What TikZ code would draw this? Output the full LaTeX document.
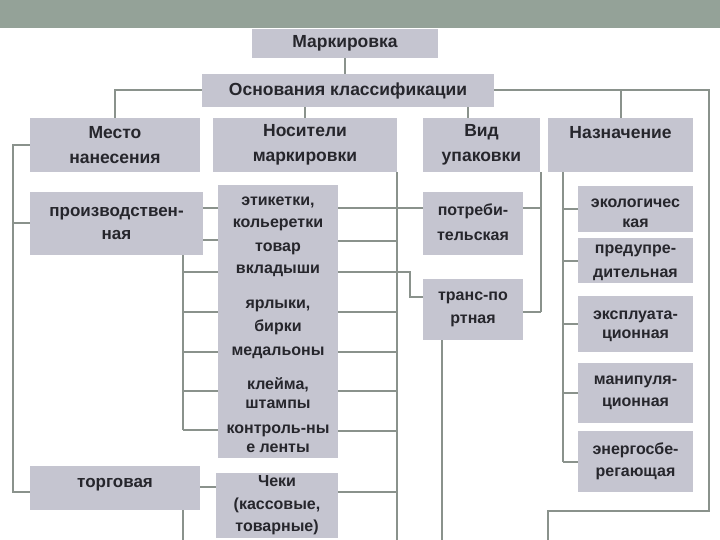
\documentclass[tikz,border=0pt]{standalone}
\usepackage{fontspec}
\setmainfont{Liberation Sans}
\usetikzlibrary{positioning, calc}
\definecolor{band}{RGB}{148, 162, 152}
\definecolor{boxfill}{RGB}{197, 197, 208}
\definecolor{wirecol}{RGB}{138, 146, 140}
\definecolor{ink}{RGB}{38, 38, 44}

\begin{document}
\begin{tikzpicture}[
    x=1pt, y=-1pt,
    cell/.style={fill=boxfill, text=ink, inner sep=0pt, align=center},
    headcell/.style={cell, font=\fontsize{17.5}{25}\selectfont\bfseries},
    itemcell/.style={cell, font=\fontsize{16}{22.5}\selectfont\bfseries},
    bigcell/.style={cell, font=\fontsize{17}{23}\selectfont\bfseries},
    link/.style={draw=wirecol, line width=2pt}
]
    \useasboundingbox (0,0) rectangle (720,540);
    \fill[band] (0,0) rectangle (720,28);

    \node[headcell, minimum width=186pt, minimum height=29pt] (mark) at (345,43.5) {Маркировка};
    \node[headcell, minimum width=292pt, minimum height=33pt] (osn) at (348,90.5) {Основания классификации};
    \node[headcell, minimum width=170pt, minimum height=54pt] (mesto) at (115,145) {Место\\нанесения};
    \node[headcell, minimum width=184pt, minimum height=54pt] (nos) at (305,145) {Носители\\маркировки};
    \node[headcell, minimum width=117pt, minimum height=54pt] (vid) at (481.5,145) {Вид\\упаковки};
    \node[headcell, minimum width=145pt, minimum height=54pt] (naz) at (620.5,145) {Назначение\\\mbox{}};

    \node[bigcell, minimum width=173pt, minimum height=63pt] (proizv) at (116.5,223.5) {производствен-\\ная};
    \node[bigcell, minimum width=170pt, minimum height=44pt] (torg) at (115,488) {};
    \node[bigcell, fill=none] (torgtxt) at (115,485) {торговая};

    \node[cell, minimum width=120pt, minimum height=273pt] (nosbox) at (278,321.5) {};
    \node[itemcell, fill=none] (etik) at (278,214) {этикетки,\\кольеретки};
    \node[itemcell, fill=none] (vkl) at (278,260) {товар\\вкладыши};
    \node[itemcell, fill=none, font=\fontsize{16}{23.5}\selectfont\bfseries] (yarl) at (278,329) {ярлыки,\\бирки\\медальоны};
    \node[itemcell, fill=none, font=\fontsize{16}{19}\selectfont\bfseries] (kleim) at (278,393.5) {клейма,\\штампы};
    \node[itemcell, fill=none, font=\fontsize{16}{19}\selectfont\bfseries] (kontr) at (278,438.5) {контроль-ны\\е ленты};
    \node[itemcell, minimum width=122pt, minimum height=65pt] (cheki) at (277,505.5) {Чеки\\(кассовые,\\товарные)};

    \node[itemcell, minimum width=100pt, minimum height=63pt] (potr) at (473,223.5) {};
    \node[itemcell, fill=none, font=\fontsize{16}{25}\selectfont\bfseries] (potrtxt) at (473,222) {потреби-\\тельская};
    \node[itemcell, minimum width=100pt, minimum height=61pt] (trans) at (473,309.5) {транс-по\\ртная};

    \node[itemcell, minimum width=115pt, minimum height=46pt] (eko) at (635.5,209) {};
    \node[itemcell, fill=none, font=\fontsize{16}{19.5}\selectfont\bfseries] (ekotxt) at (635.5,213.5) {экологичес\\кая};
    \node[itemcell, minimum width=115pt, minimum height=45pt] (pred) at (635.5,260.5) {};
    \node[itemcell, fill=none, font=\fontsize{16}{24}\selectfont\bfseries] (predtxt) at (635.5,263) {предупре-\\дительная};
    \node[itemcell, minimum width=115pt, minimum height=56pt] (expl) at (635.5,324) {};
    \node[itemcell, fill=none, font=\fontsize{16}{19.5}\selectfont\bfseries] (expltxt) at (635.5,326.5) {эксплуата-\\ционная};
    \node[itemcell, minimum width=115pt, minimum height=60pt] (manip) at (635.5,393) {манипуля-\\ционная};
    \node[itemcell, minimum width=115pt, minimum height=61pt] (energ) at (635.5,461.5) {энергосбе-\\регающая};

    \coordinate (lrail) at (13,0);
    \coordinate (prail) at (183,0);
    \coordinate (nrail) at (397,0);
    \coordinate (vrail) at (541,0);
    \coordinate (zrail) at (563,0);
    \coordinate (rtop) at (709,90.5);
    \coordinate (rbot) at (709,511);
    \coordinate (offnaz) at (548,545);

    \draw[link] (mark) -- (mark |- osn.north);
    \draw[link] (osn.west) -| (mesto.north);
    \draw[link] (nos.north |- osn.south) -- (nos.north);
    \draw[link] ([xshift=-14pt]vid.north |- osn.south) -- ([xshift=-14pt]vid.north);
    \draw[link] (osn.east) -- (rtop) -- (rbot) -| (offnaz);
    \draw[link] (naz.north |- osn.east) -- (naz.north);

    \draw[link] (mesto.west) -| ($(torg.west -| lrail)+(0,4)$) -- ($(torg.west)+(0,4)$);
    \draw[link] (proizv.west -| lrail) -- (proizv.west);

    \draw[link] (proizv.east |- 0,208) -- (nosbox.west |- 0,208);
    \draw[link] (proizv.east |- 0,240) -- (nosbox.west |- 0,240);
    \draw[link] (proizv.south -| prail) -- (prail |- 0,430);
    \foreach \y in {272,312,352,391,430}
        \draw[link] (prail |- 0,\y) -- (nosbox.west |- 0,\y);
    \draw[link] (torg.east |- 0,487) -- (cheki.west |- 0,487);
    \draw[link] (torg.south -| prail) -- (prail |- 0,545);

    \draw[link] (nos.south -| nrail) -- (nrail |- 0,545);
    \foreach \y in {241,312,352,391,431}
        \draw[link] (nosbox.east |- 0,\y) -- (nrail |- 0,\y);
    \draw[link] (cheki.east |- 0,492) -- (nrail |- 0,492);
    \draw[link] (nosbox.east |- 0,208) -- (potr.west |- 0,208);
    \draw[link] (nosbox.east |- 0,272) -| (410,297) -- (trans.west |- 0,297);

    \draw[link] (vid.south -| vrail) -- (vrail |- 0,312);
    \draw[link] (potr.east |- 0,208) -- (vrail |- 0,208);
    \draw[link] (trans.east |- 0,312) -- (vrail |- 0,312);
    \draw[link] ($(trans.south)+(-31,0)$) -- ($(trans.south)+(-31,205)$);

    \draw[link] (naz.south -| zrail) -- (zrail |- energ.west);
    \foreach \n in {eko,pred,expl,manip,energ}
        \draw[link] (zrail |- \n.west) -- (\n.west);
\end{tikzpicture}
\end{document}
